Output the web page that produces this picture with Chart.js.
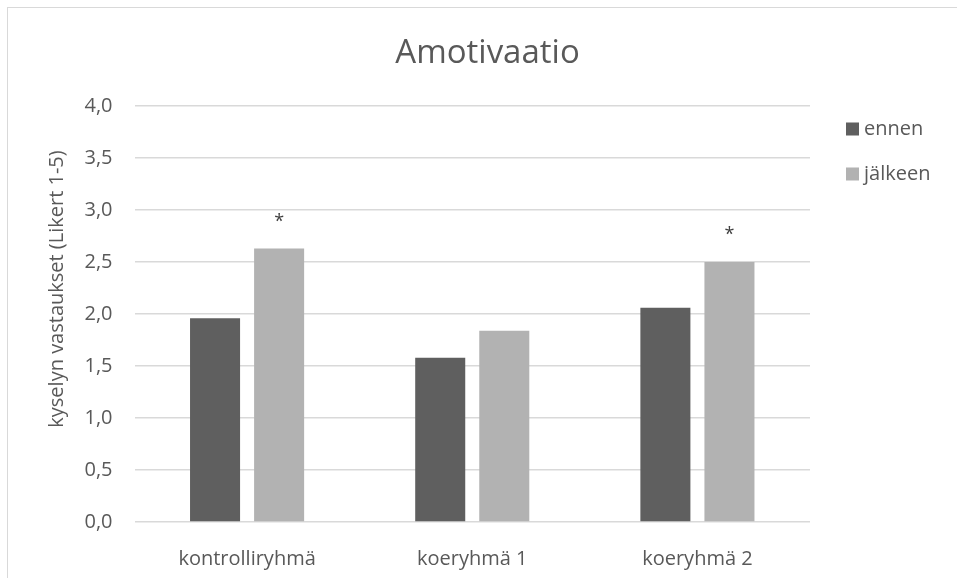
<!DOCTYPE html>
<html>
<head>
<meta charset="utf-8">
<script src="https://cdn.jsdelivr.net/npm/chart.js@4"></script>
<style>
  html, body { margin: 0; padding: 0; background: #fff; }
  #wrap { position: relative; width: 957px; height: 578px; overflow: hidden; }
  #frame { position: absolute; left: 7px; top: 7px; width: 1000px; height: 1000px; border-left: 1px solid #d9d9d9; border-top: 1px solid #d9d9d9; }
  canvas { position: absolute; left: 0; top: 0; }
</style>
</head>
<body>
<div id="wrap">
  <div id="frame"></div>
  <canvas id="c" width="957" height="578"></canvas>
</div>
<script>
const chartTitle = 'Amotivaatio';
const yAxisTitle = 'kyselyn vastaukset (Likert 1-5)';
const categories = ['kontrolliryhmä', 'koeryhmä 1', 'koeryhmä 2'];
const seriesNames = ['ennen', 'jälkeen'];
const ennenValues = [1.96, 1.58, 2.06];
const jalkeenValues = [2.63, 1.84, 2.50];
const jalkeenMarks = ['*', '', '*'];
const yMin = 0, yMax = 4, yStep = 0.5;

const FONT = '"Open Sans", "DejaVu Sans", sans-serif';
const TEXT = '#595959';

const overlay = {
  id: 'overlay',
  afterDatasetsDraw(chart) {
    const ctx = chart.ctx;
    ctx.save();
    // significance marks
    const meta = chart.getDatasetMeta(1);
    ctx.fillStyle = '#404040';
    ctx.font = '18px ' + FONT;
    ctx.textAlign = 'center';
    ctx.textBaseline = 'middle';
    meta.data.forEach((bar, i) => {
      const m = jalkeenMarks[i];
      if (m) ctx.fillText(m, bar.x, bar.y - 27);
    });
    // chart title
    ctx.fillStyle = TEXT;
    ctx.font = '33px ' + FONT;
    ctx.textBaseline = 'alphabetic';
    ctx.fillText(chartTitle, 487.5, 63);
    // y axis title
    ctx.save();
    ctx.translate(57, 289);
    ctx.rotate(-Math.PI / 2);
    ctx.font = '20px ' + FONT;
    ctx.textBaseline = 'middle';
    ctx.fillText(yAxisTitle, 0, 0);
    ctx.restore();
    // legend
    ctx.font = '20px ' + FONT;
    ctx.textAlign = 'left';
    ctx.textBaseline = 'middle';
    chart.data.datasets.forEach((ds, i) => {
      const y = 129 + i * 45;
      ctx.fillStyle = ds.backgroundColor;
      ctx.fillRect(846, y - 6.5, 13, 13);
      ctx.fillStyle = TEXT;
      ctx.fillText(ds.label, 864, y);
    });
    ctx.restore();
  }
};

new Chart(document.getElementById('c'), {
  type: 'bar',
  data: {
    labels: categories,
    datasets: [
      { label: seriesNames[0], data: ennenValues, backgroundColor: '#5f5f5f', borderColor: '#5f5f5f', borderWidth: 0,
        categoryPercentage: 0.569, barPercentage: 0.781 },
      { label: seriesNames[1], data: jalkeenValues, backgroundColor: '#b2b2b2', borderColor: '#b2b2b2', borderWidth: 0,
        categoryPercentage: 0.569, barPercentage: 0.781 }
    ]
  },
  options: {
    responsive: false,
    animation: false,
    devicePixelRatio: 1,
    layout: { padding: { left: 0, right: 147, top: 106, bottom: 0 } },
    plugins: {
      legend: { display: false },
      title: { display: false },
      tooltip: { enabled: false }
    },
    scales: {
      x: {
        grid: { display: false },
        border: { display: false },
        ticks: { color: TEXT, font: { family: FONT, size: 20 }, padding: 17 },
        afterFit: s => { s.height = 56; }
      },
      y: {
        min: yMin, max: yMax,
        grid: { color: '#d9d9d9', lineWidth: 1.5, drawTicks: false },
        border: { display: false },
        ticks: {
          stepSize: yStep, color: TEXT, font: { family: FONT, size: 20 }, padding: 22,
          callback: v => v.toFixed(1).replace('.', ',')
        },
        afterFit: s => { s.width = 134.5; }
      }
    }
  },
  plugins: [overlay]
});
</script>
</body>
</html>
